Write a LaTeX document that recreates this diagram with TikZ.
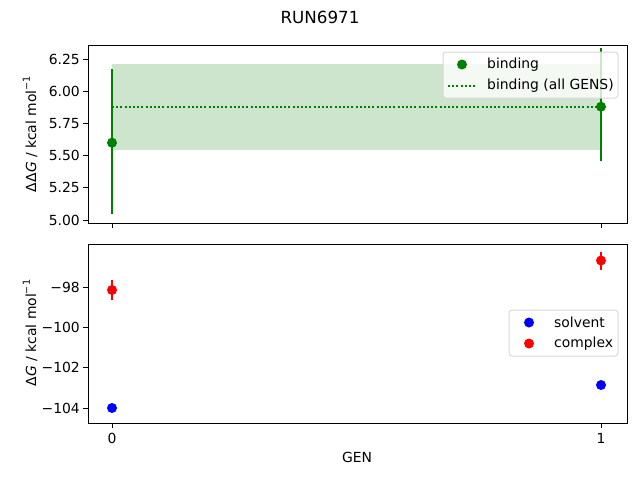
\documentclass[tikz,border=0pt]{standalone}
\usepackage{fontspec}
\setmainfont{DejaVu Sans}
\definecolor{mplgreen}{HTML}{008000}
\newcommand{\supm}[1]{\raisebox{0.45em}{\fontsize{9.7}{10}\selectfont #1}}
\begin{document}
\begin{tikzpicture}[x=1pt,y=-1pt,
  lab/.style={font=\fontsize{13.9}{15}\selectfont, inner sep=0pt},
  tick/.style={line width=1pt},
  ax/.style={line width=1pt},
  eb/.style={line width=2pt},
  dotl/.style={mplgreen, line width=2pt, dash pattern=on 2pt off 2.2pt},
  dotm/.style={circle, inner sep=0pt, minimum size=10pt},
  leg/.style={draw=black!15, fill=white, fill opacity=0.8, text opacity=1, rounded corners=3pt, line width=1pt}]
\useasboundingbox (0,0) rectangle (640,480);
\fill[white] (0,0) rectangle (640,480);
\node[lab, font=\fontsize{16.7}{18}\selectfont] (title) at (320,17) {RUN6971};
% ---------- top axes
\fill[mplgreen, opacity=0.2] (112,64.2) rectangle (601,150.4);
\draw[dotl] (112,106.7) -- (601,106.7);
\draw[mplgreen, eb] (112,213.6) -- (112,69.3);
\draw[mplgreen, eb] (601,160.8) -- (601,48);
\node[dotm, fill=mplgreen] (g0) at (112,142.7) {};
\node[dotm, fill=mplgreen] (g1) at (601,106.7) {};
\draw[ax] (88,45) rectangle (627,223);
\foreach \y/\t in {59/6.25,91.2/6.00,123.4/5.75,155.6/5.50,187.8/5.25,220/5.00}
  {\draw[tick] (88,\y) -- (83,\y); \node[lab, anchor=east] at (80,\y) {\t};}
\foreach \x in {112,601} \draw[tick] (\x,223) -- (\x,228);
\node[lab, rotate=90] (yl1) at (30,134) {ΔΔ\textit{G} / kcal mol\supm{−1}};
\node[leg, minimum width=175pt, minimum height=46pt] (leg1) at (530.5,75) {};
\node[dotm, fill=mplgreen] (lg1) at (462,64.5) {};
\draw[dotl] (448,85.5) -- (476,85.5);
\node[lab, anchor=west] (lt1) at (487,64.5) {binding};
\node[lab, anchor=west] (lt2) at (487,85.5) {binding (all GENS)};
% ---------- bottom axes
\draw[red, eb] (112,280) -- (112,300);
\draw[red, eb] (601,252) -- (601,270);
\draw[blue, eb] (112,404) -- (112,412);
\draw[blue, eb] (601,381) -- (601,389);
\node[dotm, fill=red] (r0) at (112,290) {};
\node[dotm, fill=red] (r1) at (601,260.5) {};
\node[dotm, fill=blue] (b0) at (112,408) {};
\node[dotm, fill=blue] (b1) at (601,385) {};
\draw[ax] (88,244) rectangle (627,423);
\foreach \y/\t in {287/−98,327.3/−100,367.6/−102,408/−104}
  {\draw[tick] (88,\y) -- (83,\y); \node[lab, anchor=east] at (80,\y) {\t};}
\foreach \x/\t in {112/0,601/1}
  {\draw[tick] (\x,423) -- (\x,428); \node[lab] at (\x,438) {\t};}
\node[lab] (xl) at (357,457) {GEN};
\node[lab, rotate=90] (yl2) at (30,333) {Δ\textit{G} / kcal mol\supm{−1}};
\node[leg, minimum width=109pt, minimum height=46pt] (leg2) at (563.5,333) {};
\node[dotm, fill=blue] (lb) at (529,322.5) {};
\node[dotm, fill=red] (lr) at (529,343.5) {};
\node[lab, anchor=west] (ls) at (554,322.5) {solvent};
\node[lab, anchor=west] (lc) at (554,343.5) {complex};
\end{tikzpicture}
\end{document}
